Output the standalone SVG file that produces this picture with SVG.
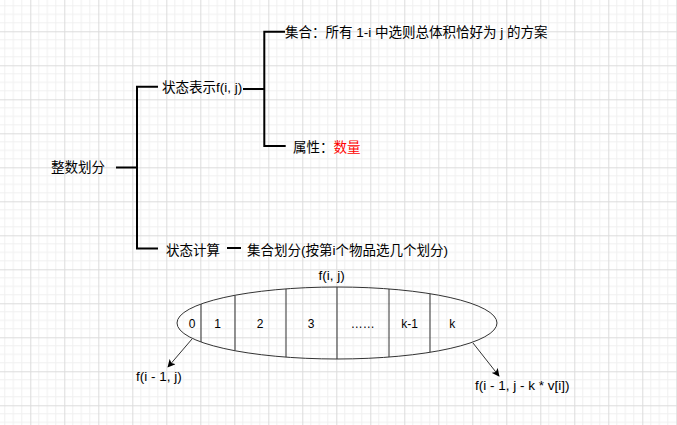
<svg xmlns="http://www.w3.org/2000/svg" width="677" height="425" viewBox="0 0 677 425">
<defs>
<pattern id="grid" x="30.3" y="31.3" width="34" height="34" patternUnits="userSpaceOnUse">
<path d="M8.5 0V34M17 0V34M25.5 0V34M0 8.5H34M0 17H34M0 25.5H34" stroke="#f0f0f0" stroke-width="1" fill="none"/>
<path d="M0.5 0V34M0 0.5H34" stroke="#dcdcdc" stroke-width="1" fill="none"/>
</pattern>
<marker id="arr" viewBox="0 0 10 10" refX="9" refY="5" markerWidth="8" markerHeight="8" markerUnits="userSpaceOnUse" orient="auto">
<path d="M0 0L10 5L0 10L2.5 5Z" fill="#000"/>
</marker>
<clipPath id="ec"><ellipse cx="337" cy="323" rx="160" ry="36"/></clipPath>
<style>
text{font-family:"Liberation Sans","Noto Sans CJK SC",sans-serif;font-size:13.5px;fill:#000}
.cell{font-size:12px}
.tree{stroke:#000;stroke-width:2;fill:none}
.thin{stroke:#333;stroke-width:1;fill:none}
.red{fill:#ff0000}
</style>
</defs>
<rect width="677" height="425" fill="#fff"/>
<rect width="677" height="425" fill="url(#grid)"/>
<g id="connectors">
<path class="tree" d="M116 167.5H137M158 86.7H137V248.5H158"/>
<path class="tree" d="M243 89H264.3M285 31.7H264.3V146H285.7"/>
<path class="tree" d="M227 248H241"/>
<path class="thin" d="M192 339L168 367" marker-end="url(#arr)"/>
<path class="thin" d="M473 343L499 376" marker-end="url(#arr)"/>
</g>
<g id="root"><text x="51" y="172.4">整数划分</text></g>
<g id="repr"><text x="162" y="91.8">状态表示f(i, j)</text></g>
<g id="set"><text x="285" y="36.8">集合：所有 1-i 中选则总体积恰好为 j 的方案</text></g>
<g id="attr"><text x="293" y="151.8">属性：<tspan class="red">数量</tspan></text></g>
<g id="calc"><text x="166" y="255">状态计算</text></g>
<g id="partition"><text x="247" y="255">集合划分(按第i个物品选几个划分)</text></g>
<g id="fij"><text x="331.7" y="279.5" text-anchor="middle">f(i, j)</text></g>
<g id="ellipse">
<ellipse cx="337" cy="323" rx="160" ry="36" class="thin"/>
<g clip-path="url(#ec)" class="thin">
<path d="M201 280V370M235 280V370M286 280V370M337 280V370M389 280V370M430 280V370"/>
</g>
<g text-anchor="middle" class="cell">
<text class="cell" x="192" y="327.6">0</text>
<text class="cell" x="217.7" y="328">1</text>
<text class="cell" x="260" y="328">2</text>
<text class="cell" x="311" y="328">3</text>
<text class="cell" x="362.7" y="327.5">……</text>
<text class="cell" x="409.5" y="328">k-1</text>
<text class="cell" x="452.3" y="328">k</text>
</g>
</g>
<g id="left"><text x="136" y="381">f(i - 1, j)</text></g>
<g id="right"><text x="475" y="390">f(i - 1, j - k * v[i])</text></g>
</svg>
